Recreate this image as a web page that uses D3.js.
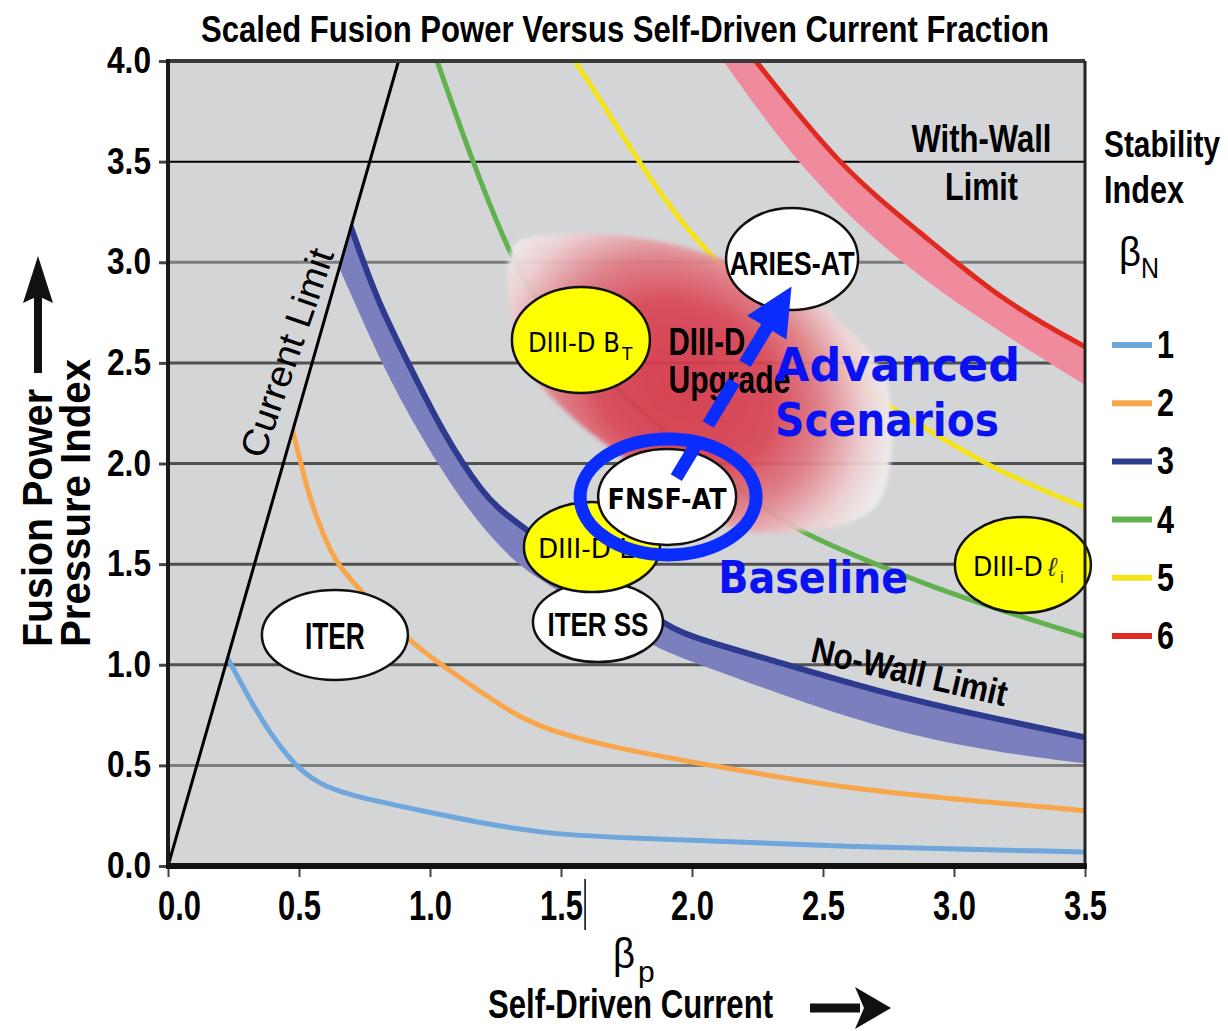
<!DOCTYPE html>
<html><head><meta charset="utf-8">
<script src="https://cdn.jsdelivr.net/npm/d3@7"></script>
<style>body{margin:0;background:#fff}svg{display:block}</style>
</head><body>
<svg id="c" width="1228" height="1031"></svg>
<script>
// ---------- data ----------
const xTicks = [0, 0.5, 1, 1.5, 2, 2.5, 3, 3.5];
const yTicks = [0, 0.5, 1, 1.5, 2, 2.5, 3, 3.5, 4];
const gridValues = [0.5, 1, 1.5, 2, 2.5, 3, 3.5];
const legendLabels = ["1", "2", "3", "4", "5", "6"];
const currentLimit = [[0, 0], [0.88, 4.0]];
// beta_N = 1
const bn1 = [[0.204,1.09],[0.233,1.02],[0.313,0.825],[0.389,0.66],[0.477,0.51],[0.569,0.41],[0.695,0.35],[0.95,0.28],[1.203,0.21],[1.458,0.16],[1.65,0.145],[2.565,0.095],[3.5,0.07]];
// beta_N = 2
const bn2 = [[0.455,2.27],[0.477,2.157],[0.542,1.82],[0.569,1.73],[0.63,1.52],[0.733,1.37],[0.924,1.11],[1.076,0.97],[1.332,0.74],[1.458,0.676],[1.649,0.60],[2.11,0.49],[2.565,0.39],[3.02,0.33],[3.5,0.275]];
// beta_N = 3 (no-wall limit band: upper line and lower edge)
const bn3Upper = [[0.672,3.27],[0.702,3.16],[0.798,2.81],[0.924,2.48],[1.05,2.15],[1.20,1.85],[1.305,1.72],[1.878,1.21],[1.99,1.14],[2.26,1.04],[2.72,0.86],[3.18,0.725],[3.5,0.64]];
const bn3Lower = [[0.624,3.06],[0.668,2.93],[0.82,2.48],[0.95,2.17],[1.076,1.90],[1.20,1.68],[1.33,1.50],[1.458,1.39],[1.85,1.09],[1.99,1.02],[2.26,0.89],[2.72,0.68],[3.18,0.56],[3.5,0.51]];
// beta_N = 4
const bn4 = [[0.995,4.12],[1.027,4.0],[1.164,3.49],[1.317,3.0],[1.41,2.80],[1.69,2.37],[2.27,1.77],[2.46,1.63],[2.72,1.49],[2.91,1.39],[3.18,1.27],[3.5,1.14]];
// beta_N = 5
const bn5 = [[1.49,4.12],[1.553,4.0],[1.65,3.81],[1.80,3.49],[2.03,3.06],[2.41,2.64],[2.64,2.37],[2.90,2.17],[3.15,1.97],[3.5,1.78]];
// beta_N = 6 (with-wall limit band: line and lower edge)
const bn6Upper = [[2.09,4.25],[2.244,4.0],[2.565,3.47],[2.87,3.15],[3.18,2.81],[3.5,2.58]];
const bn6Lower = [[1.98,4.25],[2.12,4.0],[2.41,3.47],[2.72,3.08],[3.02,2.78],[3.5,2.39]];
// DIII-D upgrade region outline
const blobOutline = [[1.324,3.086],[1.496,3.14],[1.84,3.111],[2.107,3.021],[2.374,2.887],[2.603,2.663],[2.737,2.415],[2.763,2.117],[2.718,1.819],[2.622,1.719],[2.374,1.66],[2.183,1.67],[1.954,1.819],[1.725,2.042],[1.534,2.241],[1.382,2.465],[1.305,2.763]];
// device bubbles (centre in data units)
const bubbles = [
  {name:"ITER",   cx:0.637, cy:1.148},
  {name:"ITER SS",cx:1.641, cy:1.212},
  {name:"DIII-D L",cx:1.618, cy:1.585},
  {name:"DIII-D BT",cx:1.576, cy:2.614},
  {name:"DIII-D li",cx:3.263, cy:1.496},
  {name:"ARIES-AT",cx:2.382, cy:3.016},
  {name:"FNSF-AT", cx:1.905, cy:1.834}
];
const arrowFrom = [1.94, 1.93], arrowTo = [2.38, 2.88];

// ---------- setup ----------
const svg = d3.select("#c");
const x = d3.scaleLinear().domain([0, 3.5]).range([168, 1085]);
const y = d3.scaleLinear().domain([0, 4]).range([866, 61]);
const NARROW = "'Liberation Sans Narrow','Arial Narrow','Liberation Sans',Arial,sans-serif";
const SANS = "'Liberation Sans',Arial,sans-serif";
const GEO = "'DejaVu Sans','Noto Sans',sans-serif";
const colors = ["#6fa6dc","#f9a54a","#2d3a8e","#61b14f","#f4e21b","#de2a1f"];

svg.append("rect").attr("width",1228).attr("height",1031).attr("fill","#fff");

const defs = svg.append("defs");
defs.append("clipPath").attr("id","limitClip").append("polygon")
  .attr("points", [[x(0),y(0)],[x(currentLimit[1][0]),y(4)],[x(3.5),y(4)],[x(3.5),y(0)]].map(p=>p.join(",")).join(" "));
const rg = defs.append("radialGradient").attr("id","blobGrad").attr("gradientUnits","userSpaceOnUse")
  .attr("cx",685).attr("cy",385).attr("r",225)
  .attr("gradientTransform","translate(685,385) rotate(35) scale(1,0.8) translate(-685,-385)");
[[0,"#d5384a"],[0.42,"#d94555"],[0.64,"#e07c85"],[0.85,"#eecfd1"],[1,"#f1f1f1"]].forEach(s=>
  rg.append("stop").attr("offset",s[0]).attr("stop-color",s[1]));
const blur = defs.append("filter").attr("id","soft").attr("x","-10%").attr("y","-10%").attr("width","120%").attr("height","120%");
blur.append("feGaussianBlur").attr("stdDeviation",2);

// plot background
svg.append("rect").attr("x",x(0)).attr("y",y(4)).attr("width",x(3.5)-x(0)).attr("height",y(0)-y(4)).attr("fill","#d4d5d7");

// gridlines
svg.append("g").selectAll("line").data(gridValues).join("line")
  .attr("x1",x(0)).attr("x2",x(3.5)).attr("y1",d=>y(d)).attr("y2",d=>y(d))
  .attr("stroke",d=> d===3.5 ? "#000" : (d===3 || d===0.5) ? "#7d7d7d" : "#505050")
  .attr("stroke-width",d=> d===3.5 ? 2 : 3);

const line = d3.line().x(d=>x(d[0])).y(d=>y(d[1])).curve(d3.curveBasis);
function bandPath(upper, lower){
  const a = line(upper);
  const b = line(lower.slice().reverse()).replace(/^M/,"L");
  return a + b + "Z";
}
const curves = svg.append("g").attr("clip-path","url(#limitClip)");
// with-wall band (6)
curves.append("path").attr("d",bandPath(bn6Upper,bn6Lower)).attr("fill","#f08b9d");
curves.append("path").attr("d",line(bn6Upper)).attr("fill","none").attr("stroke",colors[5]).attr("stroke-width",5);
curves.append("path").attr("d",line(bn5)).attr("fill","none").attr("stroke",colors[4]).attr("stroke-width",5);
curves.append("path").attr("d",line(bn4)).attr("fill","none").attr("stroke",colors[3]).attr("stroke-width",5);
// no-wall band (3)
curves.append("path").attr("d",bandPath(bn3Upper,bn3Lower)).attr("fill","#7b7fbe");
curves.append("path").attr("d",line(bn3Upper)).attr("fill","none").attr("stroke",colors[2]).attr("stroke-width",6);
curves.append("path").attr("d",line(bn2)).attr("fill","none").attr("stroke",colors[1]).attr("stroke-width",5);
curves.append("path").attr("d",line(bn1)).attr("fill","none").attr("stroke",colors[0]).attr("stroke-width",5);

// current limit line
svg.append("line").attr("x1",x(currentLimit[0][0])).attr("y1",y(currentLimit[0][1]))
  .attr("x2",x(currentLimit[1][0])).attr("y2",y(currentLimit[1][1]))
  .attr("stroke","#000").attr("stroke-width",3);

// DIII-D upgrade blob
svg.append("path").attr("d", d3.line().x(d=>x(d[0])).y(d=>y(d[1])).curve(d3.curveCatmullRomClosed.alpha(0.5))(blobOutline))
  .attr("fill","url(#blobGrad)").attr("opacity",0.93).attr("filter","url(#soft)");

// ---------- text helper ----------
function label(s, px, py, o={}){
  const t = svg.append("text").attr("x",px).attr("y",py).text(s)
    .attr("font-family",o.ff||NARROW).attr("font-size",o.fs||36)
    .attr("font-weight",o.fw||"bold").attr("fill",o.fill||"#000")
    .attr("text-anchor",o.anchor||"start");
  if(o.fstyle) t.attr("font-style",o.fstyle);
  if(o.len) t.attr("textLength",o.len).attr("lengthAdjust","spacingAndGlyphs");
  if(o.tr) t.attr("transform",o.tr);
  return t;
}
const B = n => bubbles.find(b=>b.name===n);
function bubble(n, rx, ry, fill){
  const b = B(n);
  svg.append("ellipse").attr("cx",x(b.cx)).attr("cy",y(b.cy)).attr("rx",rx).attr("ry",ry)
    .attr("fill",fill).attr("stroke","#111").attr("stroke-width",2.5);
  return [x(b.cx), y(b.cy)];
}

// ITER
let c = bubble("ITER",73,45,"#fff");
label("ITER", c[0], c[1]+14, {fs:36, anchor:"middle", len:60});
// ITER SS
c = bubble("ITER SS",65,40,"#fff");
label("ITER SS", c[0], c[1]+14, {fs:34, anchor:"middle", len:101});
// DIII-D (partly hidden)
c = bubble("DIII-D L",68,45,"#ffff00");
label("DIII-D L", c[0]-54, c[1]+11, {ff:GEO, fs:27, fw:"normal", len:96});
// DIII-D BT
c = bubble("DIII-D BT",69,53,"#ffff00");
label("DIII-D B", c[0]-53, c[1]+12, {ff:GEO, fs:27, fw:"normal", len:92});
label("T", c[0]+41, c[1]+20, {ff:GEO, fs:17, fw:"normal"});
// DIII-D li
c = bubble("DIII-D li",68,48,"#ffff00");
label("DIII-D", c[0]-50, c[1]+11, {ff:GEO, fs:27, fw:"normal", len:70});
label("\u2113", c[0]+25, c[1]+11, {ff:SANS, fs:26, fw:"normal", fstyle:"italic", fill:"#333"});
label("i", c[0]+37, c[1]+18, {ff:SANS, fs:17, fw:"normal", fill:"#333"});
// ARIES-AT
c = bubble("ARIES-AT",66,51,"#fff");
label("ARIES-AT", c[0], c[1]+16, {fs:34, anchor:"middle", len:125});

// DIII-D Upgrade label
label("DIII-D", x(1.91), y(2.54), {fs:38, len:77});
label("Upgrade", x(1.91), y(2.35), {fs:38, len:122});

// FNSF-AT
c = bubble("FNSF-AT",69,48,"#fff");
label("FNSF-AT", c[0], c[1]+12, {ff:GEO, fs:28, anchor:"middle", len:119});
svg.append("ellipse").attr("cx",c[0]+1).attr("cy",c[1]).attr("rx",88).attr("ry",58)
  .attr("fill","none").attr("stroke","#0b2cff").attr("stroke-width",13);

// blue arrow FNSF -> ARIES
{
  const p0=[x(arrowFrom[0]),y(arrowFrom[1])], p1=[x(arrowTo[0]),y(arrowTo[1])];
  const L=Math.hypot(p1[0]-p0[0],p1[1]-p0[1]);
  const u=[(p1[0]-p0[0])/L,(p1[1]-p0[1])/L], n=[-u[1],u[0]];
  const hb=[p1[0]-48*u[0], p1[1]-48*u[1]];
  svg.append("line").attr("x1",p0[0]).attr("y1",p0[1]).attr("x2",hb[0]+2*u[0]).attr("y2",hb[1]+2*u[1])
    .attr("stroke","#0b2cff").attr("stroke-width",13).attr("stroke-dasharray","44,18,50,21,80");
  svg.append("polygon").attr("points",[p1,[hb[0]+23*n[0],hb[1]+23*n[1]],[hb[0]-23*n[0],hb[1]-23*n[1]]].map(p=>p.join(",")).join(" "))
    .attr("fill","#0b2cff");
}

// blue scenario labels
label("Advanced", x(2.317), y(2.41), {ff:GEO, fs:46, fill:"#0a12f2", len:245});
label("Scenarios", x(2.317), y(2.135), {ff:GEO, fs:46, fill:"#0a12f2", len:224});
label("Baseline", x(2.10), y(1.356), {ff:GEO, fs:44, fill:"#0a12f2", len:190});

// other annotations
label("With-Wall", x(3.105), y(3.548), {fs:38, anchor:"middle", len:140});
label("Limit", x(3.105), y(3.31), {fs:38, anchor:"middle", len:73});
label("No-Wall Limit", 0, 0, {fs:36, anchor:"middle", len:200, tr:`translate(${x(2.82)},${y(0.905)}) rotate(13)`});
label("Current Limit", 0, 0, {ff:SANS, fs:37, fw:"normal", anchor:"middle", len:218, tr:`translate(${x(0.50)},${y(2.53)}) rotate(-71)`});

// frame
svg.append("line").attr("x1",x(0)).attr("x2",x(3.5)).attr("y1",y(4)).attr("y2",y(4)).attr("stroke","#3a3a3a").attr("stroke-width",4);
svg.append("line").attr("x1",x(3.5)).attr("x2",x(3.5)).attr("y1",y(4)).attr("y2",y(0)).attr("stroke","#222").attr("stroke-width",3);
svg.append("line").attr("x1",x(0)).attr("x2",x(0)).attr("y1",y(4)-2).attr("y2",y(0)).attr("stroke","#1a1a1a").attr("stroke-width",4);
svg.append("line").attr("x1",x(0)-2).attr("x2",x(3.5)+2).attr("y1",y(0)).attr("y2",y(0)).attr("stroke","#111").attr("stroke-width",6);

// axes
const yAxis = svg.append("g").attr("transform",`translate(${x(0)-2},0)`)
  .call(d3.axisLeft(y).tickValues(yTicks).tickFormat(d3.format(".1f")).tickSize(7).tickPadding(8));
yAxis.select(".domain").remove();
yAxis.selectAll(".tick line").attr("stroke","#444").attr("stroke-width",3);
yAxis.selectAll(".tick text").attr("font-family",NARROW).attr("font-size",36).attr("font-weight","bold")
  .attr("fill","#000").attr("textLength",44).attr("lengthAdjust","spacingAndGlyphs");

const xAxis = svg.append("g").attr("transform",`translate(0,${y(0)+3})`)
  .call(d3.axisBottom(x).tickValues(xTicks).tickFormat(d3.format(".1f")).tickSize(8).tickPadding(13));
xAxis.select(".domain").remove();
xAxis.selectAll(".tick line").attr("stroke","#444").attr("stroke-width",2);
xAxis.selectAll(".tick text").attr("font-family",NARROW).attr("font-size",42).attr("font-weight","bold")
  .attr("fill","#000").attr("textLength",43).attr("lengthAdjust","spacingAndGlyphs")
  .attr("dx",(d,i)=> i===0 ? 11 : 0);
// small vertical mark next to 1.5
svg.append("line").attr("x1",x(1.592)).attr("x2",x(1.592)).attr("y1",y(0)+13).attr("y2",y(0)+64).attr("stroke","#000").attr("stroke-width",1.5);

// title
label("Scaled Fusion Power Versus Self-Driven Current Fraction", 625, 42, {fs:37, anchor:"middle", len:848});

// x-axis title
label("\u03b2", 613, 968, {ff:SANS, fs:42, fw:"normal", len:22});
label("p", 638, 982, {ff:SANS, fs:30, fw:"normal"});
label("Self-Driven Current", 488, 1018, {fs:40, len:285});
svg.append("line").attr("x1",810).attr("x2",860).attr("y1",1008).attr("y2",1008).attr("stroke","#111").attr("stroke-width",9);
svg.append("polygon").attr("points","855,987 891,1008 855,1029 864,1008").attr("fill","#111");

// y-axis title
label("Fusion Power", 0, 0, {ff:SANS, fs:42, len:258, tr:"translate(52,647) rotate(-90)"});
label("Pressure Index", 0, 0, {ff:SANS, fs:42, len:288, tr:"translate(90,647) rotate(-90)"});
svg.append("line").attr("x1",38).attr("x2",38).attr("y1",373).attr("y2",295).attr("stroke","#111").attr("stroke-width",8);
svg.append("polygon").attr("points","38,256 53,303 38,296 23,303").attr("fill","#111");

// legend
label("Stability", 1104, 157, {fs:37, len:116});
label("Index", 1104, 203, {fs:38, len:80});
label("\u03b2", 1119, 266, {ff:SANS, fs:40, fw:"normal", len:22});
label("N", 1141, 278, {ff:SANS, fs:30, fw:"normal", len:18});
const ly = d3.scalePoint().domain(legendLabels).range([345, 636]);
const lg = svg.append("g");
lg.selectAll("line").data(legendLabels).join("line")
  .attr("x1",1112).attr("x2",1152).attr("y1",d=>ly(d)).attr("y2",d=>ly(d))
  .attr("stroke",(d,i)=>colors[i]).attr("stroke-width",6);
lg.selectAll("text").data(legendLabels).join("text")
  .attr("x",1157).attr("y",d=>ly(d)+13).text(d=>d)
  .attr("font-family",NARROW).attr("font-size",38).attr("font-weight","bold")
  .attr("textLength",17).attr("lengthAdjust","spacingAndGlyphs");
</script>
</body></html>
